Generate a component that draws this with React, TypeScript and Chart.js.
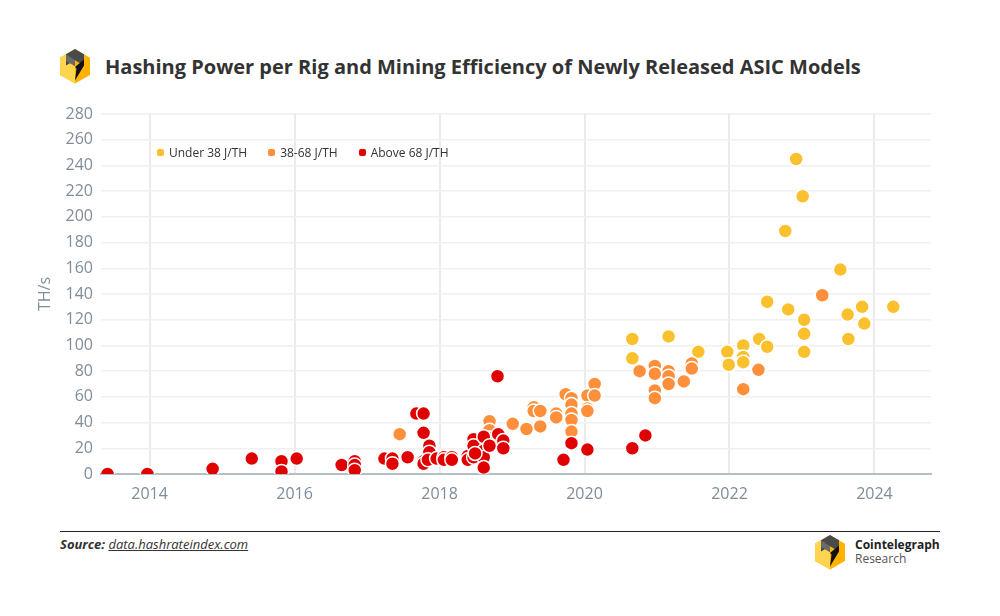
import React, { useEffect, useRef } from "react";
import { Chart, registerables } from "chart.js";

Chart.register(...registerables);

// release date (decimal year) and TH/s per rig
const under38Years = [
  2020.66, 2020.66, 2021.16, 2021.57, 2021.97, 2021.99, 2022.19, 2022.19, 2022.19,
  2022.41, 2022.52, 2022.52, 2022.77, 2022.81, 2022.92, 2023.01, 2023.03, 2023.03,
  2023.03, 2023.53, 2023.63, 2023.64, 2023.83, 2023.86, 2024.26,
];
const under38Hash = [
  105, 90, 107, 95, 95, 85, 100, 91, 87, 105, 99, 134, 189, 128, 245, 216, 120, 109,
  95, 159, 124, 105, 130, 117, 130,
];

const midYears = [
  2017.45, 2018.69, 2018.69, 2018.69, 2019.01, 2019.2, 2019.39, 2019.3, 2019.3, 2019.39,
  2019.61, 2019.61, 2019.74, 2019.82, 2019.82, 2019.82, 2019.82, 2019.82, 2020.04,
  2020.04, 2020.04, 2020.14, 2020.14, 2020.76, 2020.97, 2020.97, 2020.97, 2020.97,
  2021.16, 2021.16, 2021.16, 2021.37, 2021.48, 2021.48, 2022.19, 2022.4, 2023.28,
];
const midHash = [
  31, 41, 34, 28, 39, 35, 37, 52, 49, 49, 47, 44, 62, 59, 54, 47, 42, 33, 61, 51, 49,
  70, 61, 80, 84, 78, 65, 59, 80, 76, 70, 72, 86, 82, 66, 81, 139,
];

const above68Years = [
  2013.42, 2013.97, 2014.87, 2015.41, 2015.82, 2015.82, 2016.03, 2016.65, 2016.83,
  2016.83, 2016.83, 2017.24, 2017.35, 2017.35, 2017.56, 2017.68, 2017.78, 2017.78,
  2017.86, 2017.86, 2017.78, 2017.78, 2017.84, 2017.96, 2018.06, 2018.06, 2018.17,
  2018.17, 2018.39, 2018.39, 2018.47, 2018.47, 2018.47, 2018.61, 2018.61, 2018.61,
  2018.61, 2018.49, 2018.69, 2018.8, 2018.81, 2018.88, 2018.88, 2019.71, 2019.82,
  2020.04, 2020.66, 2020.84,
];
const above68Hash = [
  0, 0, 4, 12, 10, 2, 12, 7, 10, 7, 3, 12, 12, 8, 13, 47, 47, 32, 22, 17, 10, 8, 11,
  12, 13, 11, 13, 11, 14, 11, 27, 22, 13, 29, 18, 13, 5, 16, 22, 76, 31, 26, 20, 11,
  24, 19, 20, 30,
];

const yearTicks = [2014, 2016, 2018, 2020, 2022, 2024];

const seriesNames = ["Under 38 J/TH", "38-68 J/TH", "Above 68 J/TH"];
const seriesColors = ["#fbc02d", "#ff8f3a", "#e00000"];

const toPoints = (xs: number[], ys: number[]) => xs.map((x, i) => ({ x, y: ys[i] }));

function Cube({ size }: { size: number }) {
  return (
    <svg width={size} height={size * 1.15} viewBox="0 0 40 46">
      <polygon points="20,0 40,11.5 40,34.5 20,46 0,34.5 0,11.5" fill="#ffb300" />
      <polygon points="20,0 20,46 0,34.5 0,11.5" fill="#ffd54f" />
      <polygon points="20,0 32,7 32,22 20,15 8,22 8,7" fill="#4a4a4a" />
      <polygon points="8,7 20,15 20,23 8,16" fill="#6a6a6a" />
      <polygon points="32,14 32,22 20,42 22,26 20,24" fill="#111" />
    </svg>
  );
}

export default function App() {
  const chartRef = useRef<HTMLCanvasElement>(null);

  useEffect(() => {
    document.body.style.margin = "0";
    if (!chartRef.current) return;
    const ctx = chartRef.current.getContext("2d");
    if (!ctx) return;

    const tickFont = { family: "'Open Sans'", size: 16 };
    const tickColor = "#7f8c99";

    const chart = new Chart(ctx, {
      type: "scatter",
      data: {
        datasets: [
          {
            label: seriesNames[0],
            data: toPoints(under38Years, under38Hash),
            backgroundColor: seriesColors[0],
            order: 2,
          },
          {
            label: seriesNames[1],
            data: toPoints(midYears, midHash),
            backgroundColor: seriesColors[1],
            order: 1,
          },
          {
            label: seriesNames[2],
            data: toPoints(above68Years, above68Hash),
            backgroundColor: seriesColors[2],
            order: 0,
          },
        ].map((d) => ({
          ...d,
          pointRadius: 7,
          pointHoverRadius: 7,
          borderColor: "#ffffff",
          borderWidth: 1.5,
        })),
      },
      options: {
        animation: false,
        responsive: true,
        maintainAspectRatio: false,
        layout: { padding: { left: 30, right: 69, top: 19, bottom: 5 } },
        plugins: { legend: { display: false }, tooltip: { enabled: false } },
        scales: {
          x: {
            type: "linear",
            min: 2013.33,
            max: 2024.78,
            afterBuildTicks: (scale) => {
              scale.ticks = yearTicks.map((v) => ({ value: v }));
            },
            afterFit: (scale) => {
              scale.height = 41;
            },
            ticks: {
              font: tickFont,
              color: tickColor,
              padding: 11,
              callback: (v) => String(v),
            },
            grid: { color: "#ebebeb", lineWidth: 2, drawTicks: false, tickLength: 0 },
            border: { color: "#b3bec5", width: 2 },
          },
          y: {
            min: 0,
            max: 280,
            afterFit: (scale) => {
              scale.width = 71;
            },
            ticks: { stepSize: 20, font: tickFont, color: tickColor, padding: 8 },
            grid: { color: "#f0f0f0", lineWidth: 1.5, drawTicks: false, tickLength: 0 },
            border: { display: false },
            title: {
              display: true,
              text: "TH/s",
              font: tickFont,
              color: tickColor,
              padding: { top: 6, bottom: 0 },
            },
          },
        },
      },
    });

    return () => chart.destroy();
  }, []);

  return (
    <div
      style={{
        position: "relative",
        width: 1000,
        height: 616,
        background: "#fff",
        fontFamily: "'Open Sans', sans-serif",
        color: "#333",
        overflow: "hidden",
      }}
    >
      <div style={{ position: "absolute", left: 60, top: 49 }}>
        <Cube size={30} />
      </div>
      <div
        style={{
          position: "absolute",
          left: 105,
          top: 53,
          fontSize: 20,
          fontWeight: 700,
          color: "#333",
          whiteSpace: "nowrap",
        }}
      >
        Hashing Power per Rig and Mining Efficiency of Newly Released ASIC Models
      </div>

      <div style={{ position: "absolute", left: 0, top: 95, width: 1000, height: 425 }}>
        <canvas ref={chartRef} />
      </div>

      <div
        style={{
          position: "absolute",
          left: 157,
          top: 144,
          display: "flex",
          fontSize: 12,
          color: "#333",
          whiteSpace: "nowrap",
        }}
      >
        {seriesNames.map((name, i) => (
          <div
            key={name}
            style={{
              display: "flex",
              alignItems: "center",
              marginRight: [21, 21, 0][i],
            }}
          >
            <span
              style={{
                display: "inline-block",
                width: 7,
                height: 7,
                borderRadius: 2,
                background: seriesColors[i],
                marginRight: 5,
              }}
            />
            {name}
          </div>
        ))}
      </div>

      <div
        style={{
          position: "absolute",
          left: 60,
          top: 531,
          width: 880,
          height: 1,
          background: "#222",
        }}
      />
      <div
        style={{
          position: "absolute",
          left: 60,
          top: 535,
          fontSize: 13,
          fontStyle: "italic",
          color: "#333",
        }}
      >
        <span style={{ fontWeight: 700 }}>Source:</span>{" "}
        <span style={{ textDecoration: "underline" }}>data.hashrateindex.com</span>
      </div>
      <div style={{ position: "absolute", left: 815, top: 535 }}>
        <Cube size={30} />
      </div>
      <div
        style={{
          position: "absolute",
          left: 855,
          top: 538,
          fontSize: 12,
          lineHeight: "14px",
          color: "#222",
        }}
      >
        <div style={{ fontWeight: 700 }}>Cointelegraph</div>
        <div style={{ color: "#555" }}>Research</div>
      </div>
    </div>
  );
}
